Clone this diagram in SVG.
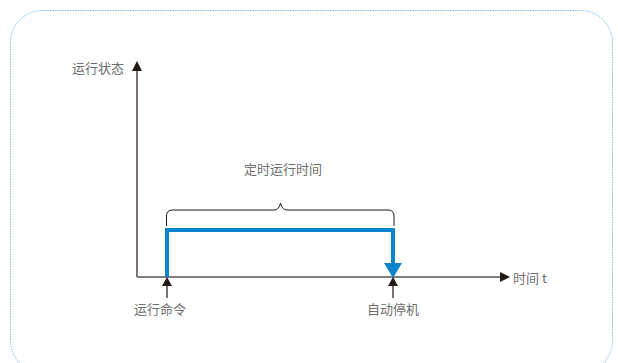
<svg xmlns="http://www.w3.org/2000/svg" width="618" height="363" viewBox="0 0 618 363">
<defs>
<style>
.t{font-family:"Noto Sans CJK SC","Liberation Sans",sans-serif;font-size:13px;fill:#6e6e6e}
.ax{stroke:#231815;stroke-width:1.2;fill:none}
.bl{stroke:#0a82cc;stroke-width:4;fill:none}
</style>
</defs>
<rect x="10.5" y="10.5" width="602" height="362" rx="32" ry="32" fill="none" stroke="#7fbde8" stroke-width="1" stroke-dasharray="1.5 1"/>
<g id="connectors">
<line class="ax" x1="137" y1="277" x2="137" y2="70"/>
<polygon points="137,61 132,71 142,71" fill="#231815"/>
<line x1="137" y1="277" x2="502" y2="277" stroke="#555" stroke-width="1.5"/>
<polygon points="510,277 500,272 500,282" fill="#231815"/>
<polyline class="bl" points="167,277 167,230 393,230 393,265"/>
<polygon points="384,263 402,263 393,278" fill="#0a82cc"/>
<line class="ax" x1="167" y1="285" x2="167" y2="298"/>
<polygon points="167,277 162,286 172,286" fill="#231815"/>
<line class="ax" x1="393" y1="285" x2="393" y2="298"/>
<polygon points="393,277 388,286 398,286" fill="#231815"/>
<path d="M166.5,226 V216 Q166.5,210 172.5,210 H274 Q279,210 280.5,203 Q282,210 287,210 H388 Q394,210 394,216 V226" fill="none" stroke="#231815" stroke-width="1"/>
</g>
<g id="y-label"><text class="t" x="98" y="73" text-anchor="middle">运行状态</text></g>
<g id="x-label"><text class="t" x="513" y="283">时间 t</text></g>
<g id="duration"><text class="t" x="283" y="174" text-anchor="middle">定时运行时间</text></g>
<g id="start"><text class="t" x="160" y="314" text-anchor="middle">运行命令</text></g>
<g id="stop"><text class="t" x="393" y="314" text-anchor="middle">自动停机</text></g>
</svg>
